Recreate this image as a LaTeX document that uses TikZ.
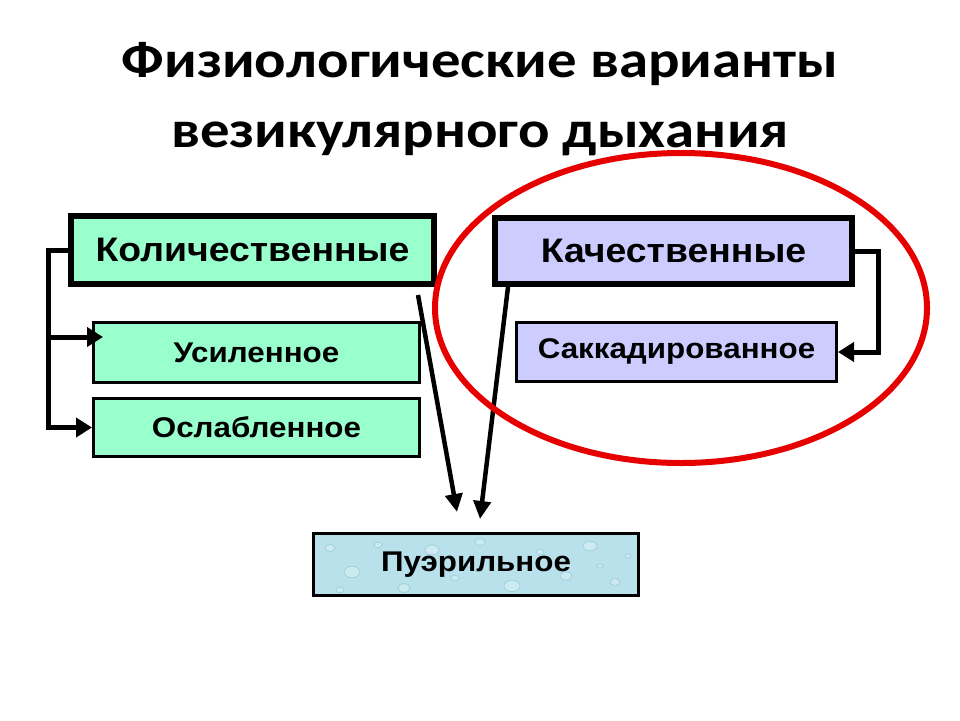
\documentclass[tikz,border=0pt]{standalone}
\usepackage{fontspec}
\setmainfont[FakeStretch=1.1]{Liberation Sans}
\newfontfamily\titlefont[FakeStretch=1.13]{Carlito}
\usepackage{tikz}
\usetikzlibrary{shapes,arrows.meta,positioning}
\definecolor{mint}{RGB}{153,255,204}
\definecolor{lilac}{RGB}{204,204,255}
\definecolor{water}{RGB}{184,225,235}
\definecolor{drop}{RGB}{140,195,210}
\definecolor{ringred}{RGB}{230,0,0}

\begin{document}
\begin{tikzpicture}[x=1pt,y=-1pt]
    \tikzstyle{box}=[rectangle,draw=black,inner sep=0pt,font=\bfseries]
    \tikzstyle{mainbox}=[box,line width=6pt,font=\bfseries\fontsize{34}{38}\selectfont]
    \tikzstyle{subbox}=[box,line width=3pt,font=\bfseries\fontsize{28.5}{32}\selectfont]
    \tikzstyle{title}=[anchor=base,font=\titlefont\bfseries\fontsize{52}{60}\selectfont]
    \tikzstyle{arr}=[line width=5pt,-{Triangle[length=16pt,width=19pt]}]
    \tikzstyle{slant}=[line width=4.5pt,-{Triangle[length=18pt,width=17pt]}]
    \tikzstyle{bubble}=[draw=drop,line width=0.8pt,fill=white,fill opacity=0.3,draw opacity=0.6]
    \useasboundingbox (0,0) rectangle (960,720);
    \node[title] (title1) at (480,77) {Физиологические варианты};
    \node[title] (title2) at (480,147) {везикулярного дыхания};
    \node[mainbox,fill=mint,minimum width=363pt,minimum height=68pt] (kol) at (252.5,250) {Количественные};
    \node[subbox,fill=mint,minimum width=326pt,minimum height=60pt] (us) at (256.5,352.5) {Усиленное};
    \node[subbox,fill=mint,minimum width=326pt,minimum height=58pt] (osl) at (256.5,427.5) {Ослабленное};
    \node[mainbox,fill=lilac,minimum width=357pt,minimum height=66pt] (kach) at (673.5,251) {Качественные};
    \node[subbox,fill=lilac,minimum width=320pt,minimum height=59pt] (sak) at (676.5,352) {Саккадированное};
    \fill[water] (313.5,533.5) rectangle (638.5,595.5);
    \begin{scope}
        \clip (313.5,533.5) rectangle (638.5,595.5);
        \foreach \x/\y/\r in {330/548/5,352/572/8,378/545/4,404/588/6,432/550/7,455/578/4,
            480/542/5,512/586/8,540/552/4,566/576/6,590/546/7,615/582/5,628/556/3,340/590/4,
            470/565/3,600/566/3}
            \draw[bubble] (\x,\y) ellipse [x radius=\r pt,y radius=0.7*\r pt];
    \end{scope}
    \node[subbox,minimum width=325pt,minimum height=62pt] (pue) at (476,564.5) {Пуэрильное};
    \coordinate (bl) at (48,250);
    \coordinate (usin) at (103,337);
    \coordinate (d1) at (418,295);
    \coordinate (p1) at (457,512);
    \coordinate (d2) at (508,287);
    \coordinate (p2) at (480,519);
    \draw[arr] (kol.west) -- (bl) |- (osl.west);
    \draw[arr] (bl |- usin) -- (usin);
    \draw[arr] (kach.east) -- ++(23,0) |- (sak.east);
    \draw[slant] (d1) -- (p1);
    \draw[slant] (d2) -- (p2);
    \draw[ringred,line width=6pt] (681,308) ellipse [x radius=246pt,y radius=155pt];
\end{tikzpicture}
\end{document}
